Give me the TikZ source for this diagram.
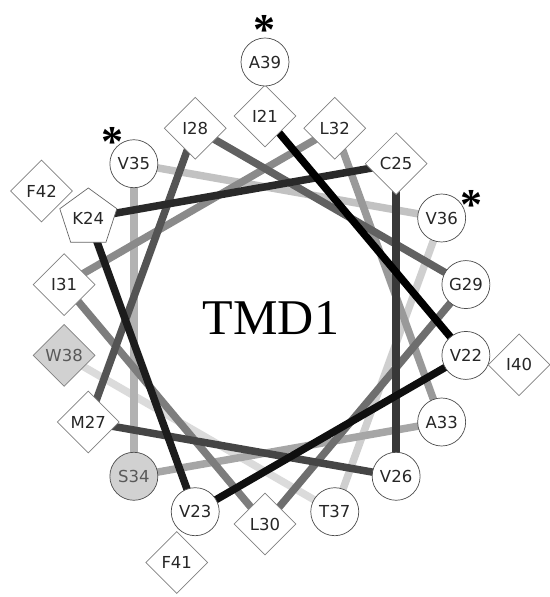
\documentclass[tikz,border=0pt]{standalone}
\usepackage{fontspec}
\usepackage{tikz}
\newfontfamily\reslabel{DejaVu Sans}
\newfontfamily\wheeltitle{Liberation Serif}
\usetikzlibrary{shapes.geometric,backgrounds}

\tikzset{
    res/.style={inner sep=0pt, fill=white, text=black!85,
        font=\reslabel\fontsize{16.5}{18}\selectfont},
    circ/.style={res, circle, draw=black!70, line width=0.7pt, minimum size=48pt},
    dia/.style={res, diamond, draw=black!50, line width=0.7pt, minimum size=62pt},
    pent/.style={res, regular polygon, regular polygon sides=5, draw=black!60,
        line width=0.7pt, minimum size=60pt},
    grcirc/.style={circ, fill=black!18, text=black!65},
    grdia/.style={dia, fill=black!18, text=black!65},
    helix/.style={line width=7.5pt},
    asterisk/.style={inner sep=0pt, font=\wheeltitle\bfseries\fontsize{44}{44}\selectfont}
}

\begin{document}
\begin{tikzpicture}[x=1pt, y=1pt]
        \useasboundingbox (-265,-277) rectangle (284,320);
        \foreach \res/\num/\shp in {I/21/dia, V/22/circ, V/23/circ, K/24/pent,
        C/25/dia, V/26/circ, M/27/dia, I/28/dia, G/29/circ, L/30/dia, I/31/dia,
        L/32/dia, A/33/circ, S/34/grcirc, V/35/circ, V/36/circ, T/37/circ, W/38/grdia}
        \node[\shp] (\res\num) at ({90-100*(\num-21)}:204) {\res\num};
        \foreach \res/\num/\shp in {A/39/circ, I/40/dia, F/41/dia, F/42/dia}
        \node[\shp] (\res\num) at ({90-100*(\num-21)}:258) {\res\num};
        \begin{scope}[on background layer]
        \foreach \a/\b [count=\k from 0] in {T37/W38, V36/T37, V35/V36, S34/V35,
        A33/S34, L32/A33, I31/L32, L30/I31, G29/L30, I28/G29, M27/I28, V26/M27,
        C25/V26, K24/C25, V23/K24, V22/V23, I21/V22}{
        \pgfmathtruncatemacro\g{14+5.4*\k}
        \draw[helix, draw=black!\g] (\a.center) -- (\b.center);
        }
        \end{scope}
        \node[asterisk] (astA39) at ([shift={(0,32)}]A39) {*};
        \node[asterisk] (astV35) at ([shift={(-21,22)}]V35) {*};
        \node[asterisk] (astV36) at ([shift={(30,13)}]V36) {*};
        \node[font=\wheeltitle\fontsize{50}{55}\selectfont] (tmd) at (6,2) {TMD1};
    \end{tikzpicture}
\end{document}
